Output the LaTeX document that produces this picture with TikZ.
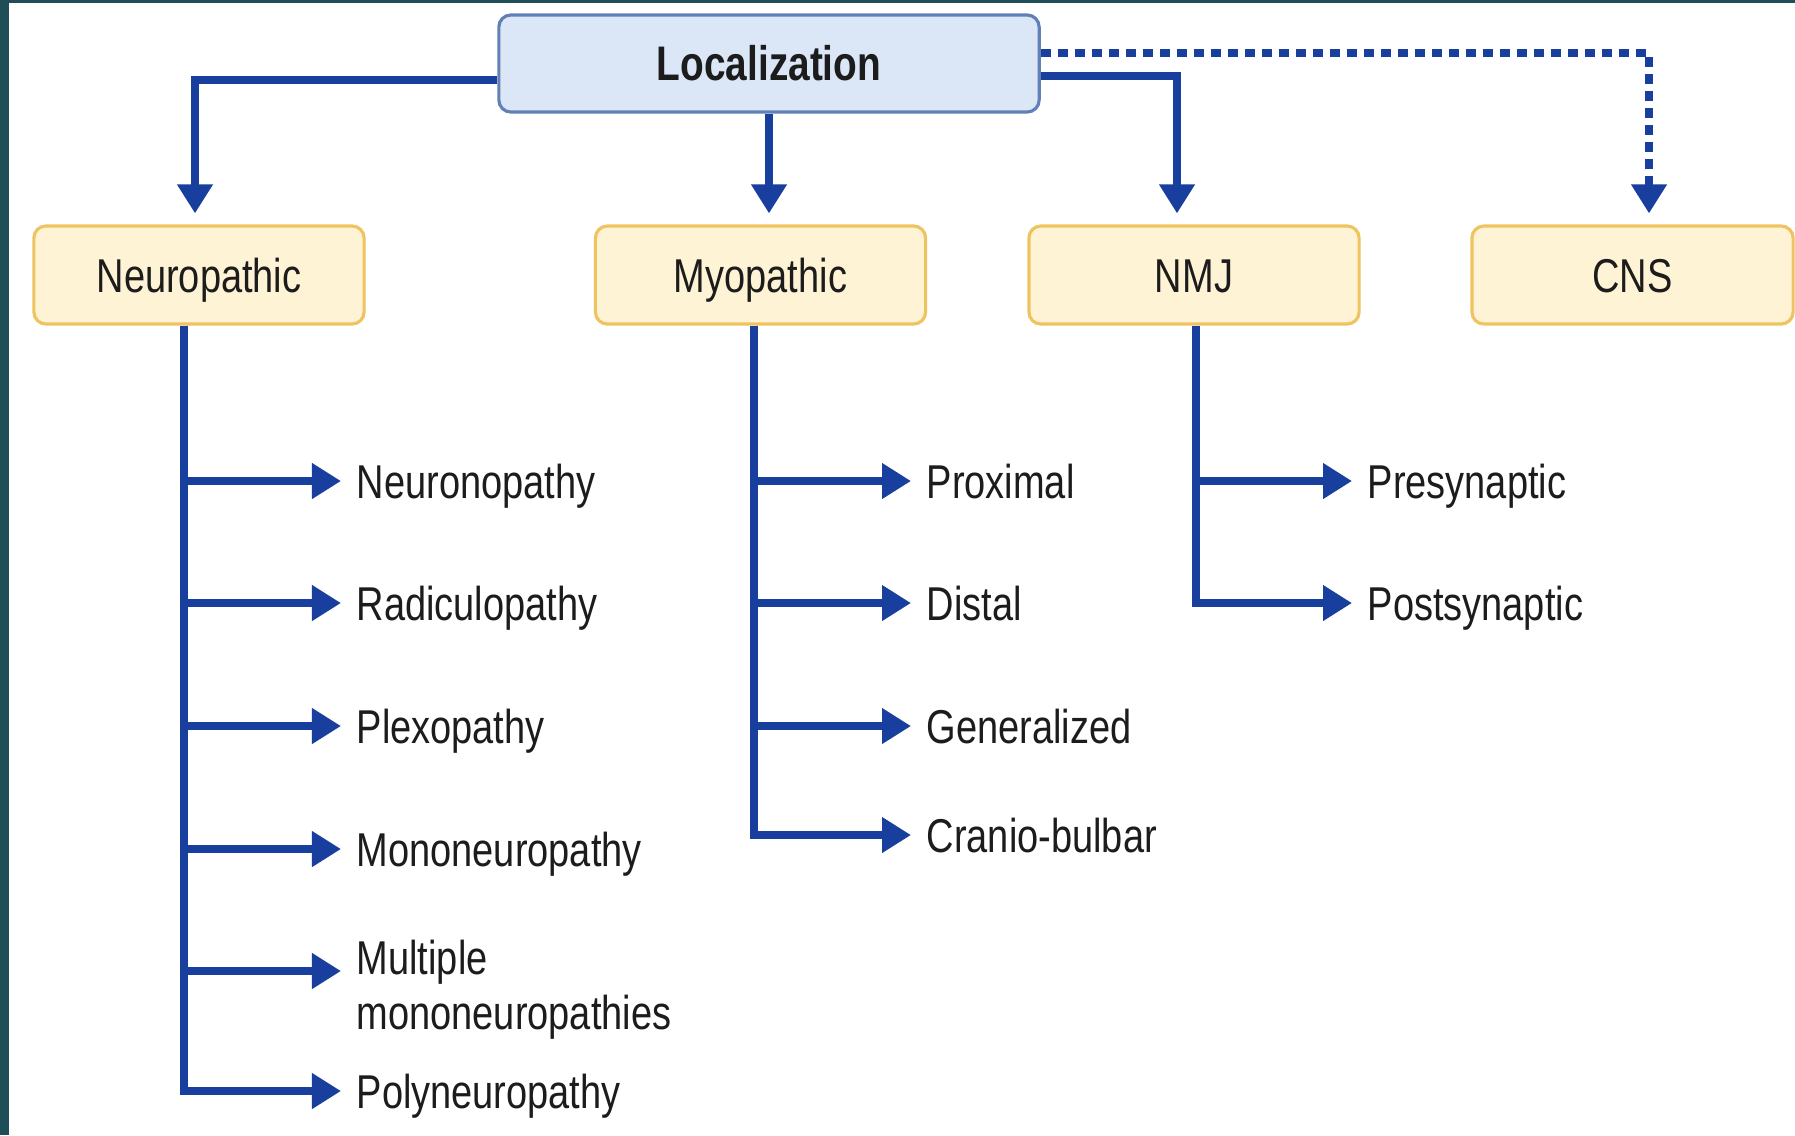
\documentclass[tikz,border=0pt]{standalone}
\usepackage{fontspec}
\setmainfont{Liberation Sans}[FakeStretch=0.8]
\usetikzlibrary{arrows.meta}

\definecolor{lineblue}{RGB}{24,62,158}
\definecolor{rootfill}{RGB}{219,231,247}
\definecolor{rootdraw}{RGB}{98,128,184}
\definecolor{groupfill}{RGB}{255,243,213}
\definecolor{groupdraw}{RGB}{239,196,96}
\definecolor{framecol}{RGB}{31,78,88}
\definecolor{ink}{RGB}{28,28,28}

\begin{document}
\begin{tikzpicture}[x=0.01cm, y=-0.01cm, text=ink,
        font=\fontsize{13.5}{15.6}\selectfont,
        rootbox/.style={draw=rootdraw, line width=0.9pt, fill=rootfill, rounded corners=0.12cm,
            minimum width=5.4cm, minimum height=0.97cm, text height=9.9pt, text depth=0pt,
            font=\fontsize{13.8}{16}\selectfont\bfseries},
        groupbox/.style={draw=groupdraw, line width=0.9pt, fill=groupfill, rounded corners=0.12cm,
            minimum width=3.3cm, minimum height=0.98cm, text height=9.7pt, text depth=0pt},
        leaftext/.style={anchor=west, inner xsep=0.15cm, inner ysep=0pt, text height=9.7pt, text depth=0pt},
        conn/.style={draw=lineblue, line width=2.2pt, -{Triangle[length=0.29cm, width=0.34cm]}},
        dotline/.style={dash pattern=on 0.1cm off 0.07cm}]
        \useasboundingbox (0,0) rectangle (1795,1135);
        \fill[framecol] (0,0) rectangle (1795,1135);
        \fill[white] (9,3) rectangle (1795,1135);

        \node[rootbox] (L) at (769,63.5) {Localization};
        \node[groupbox] (N) at (199,275) {Neuropathic};
        \node[groupbox] (M) at (760.5,275) {Myopathic};
        \node[groupbox] (J) at (1194,275) {NMJ};
        \node[groupbox, minimum width=3.21cm] (C) at (1632.5,275) {CNS};

        % top level
        \draw[conn, shorten >=0.11cm] ([yshift=-0.165cm]L.west) -| ([xshift=-0.04cm]N.north);
        \draw[conn, shorten >=0.11cm] (L.south) -- (L.south |- M.north);
        \draw[conn, shorten >=0.11cm] ([yshift=-0.125cm]L.east) -| ([xshift=-0.17cm]J.north);
        \draw[conn, dotline, shorten >=0.11cm] ([yshift=0.105cm]L.east) -| ([xshift=0.165cm]C.north);

        % neuropathic
        \node[leaftext] (N1) at (341,481) {Neuronopathy};
        \node[leaftext] (N2) at (341,603) {Radiculopathy};
        \node[leaftext] (N3) at (341,726) {Plexopathy};
        \node[leaftext] (N4) at (341,849) {Mononeuropathy};
        \node[leaftext, align=left, text height=, text depth=] (N5) at (341,990) {Multiple\\mononeuropathies};
        \node[leaftext] (N6) at (341,1091) {Polyneuropathy};
        \coordinate (n5) at ([yshift=0.19cm]N5.west);
        \foreach \t in {N1.west,N2.west,N3.west,N4.west,n5,N6.west}
            \draw[conn] ([xshift=-0.15cm]N.south) |- (\t);

        % myopathic
        \node[leaftext] (M1) at (911,481) {Proximal};
        \node[leaftext] (M2) at (911,603) {Distal};
        \node[leaftext] (M3) at (911,726) {Generalized};
        \node[leaftext] (M4) at (911,835) {Cranio-bulbar};
        \foreach \t in {M1,M2,M3,M4}
            \draw[conn] ([xshift=-0.065cm]M.south) |- (\t.west);

        % nmj
        \node[leaftext] (J1) at (1352,481) {Presynaptic};
        \node[leaftext] (J2) at (1352,603) {Postsynaptic};
        \foreach \t in {J1,J2}
            \draw[conn] ([xshift=0.02cm]J.south) |- (\t.west);
\end{tikzpicture}
\end{document}
